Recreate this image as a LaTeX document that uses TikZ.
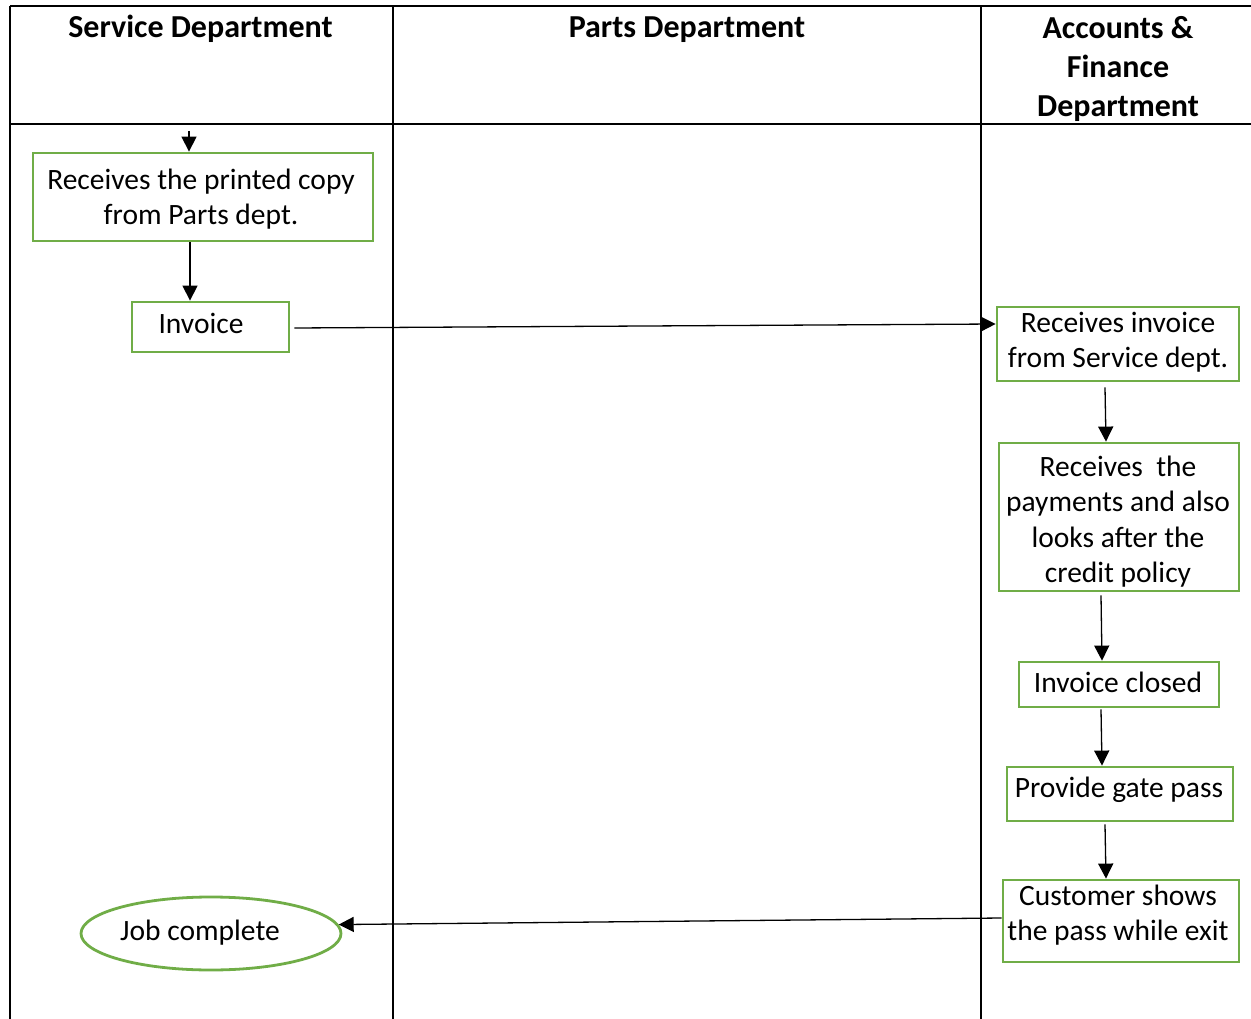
\documentclass[tikz,border=0pt]{standalone}
\usepackage{fontspec}
\setmainfont{Carlito}
\usetikzlibrary{arrows.meta,shapes.geometric}
\definecolor{boxgreen}{HTML}{70AD47}
\tikzset{
  tline/.style={line width=2pt,black},
  box/.style={draw=boxgreen,line width=2.8pt,inner sep=0pt,rectangle},
  oval/.style={draw=boxgreen,line width=2.8pt,inner sep=0pt,ellipse},
  txt/.style={inner sep=0pt,align=center,font=\fontsize{29.5}{35.5}\selectfont},
  head/.style={inner sep=0pt,align=center,font=\fontsize{32}{39}\selectfont\bfseries},
  arr/.style={line width=1.3pt,-{Triangle[length=15pt,width=15pt]}}
}
\begin{document}
\begin{tikzpicture}[x=1pt,y=-1pt]
\useasboundingbox (0,0) rectangle (1251,1019);
% table
\draw[tline] (10,6) -- (1251,6);
\draw[tline] (10,124) -- (1251,124);
\draw[tline] (10,6) -- (10,1019);
\draw[tline] (393,6) -- (393,1019);
\draw[tline] (981,6) -- (981,1019);
% headers
\node[head,anchor=base] (hs) at (200.5,38) {Service Department};
\node[head,anchor=base] (hp) at (687,38) {Parts Department};
\node[head] (ha) at (1118,68.5) {Accounts \&\\Finance\\Department};
% boxes
\node[box,minimum width=340pt,minimum height=88pt] (b1) at (203,197) {};
\node[txt] (b1t) at (201,199) {Receives the printed copy\\from Parts dept.};
\node[box,minimum width=157pt,minimum height=50pt] (inv) at (210.5,327) {};
\node[txt] (invt) at (201,323.5) {Invoice};
\node[box,minimum width=242pt,minimum height=74pt] (r1) at (1118,344) {};
\node[txt] (r1t) at (1118,342) {Receives invoice\\from Service dept.};
\node[box,minimum width=240pt,minimum height=148pt] (r2) at (1119,517) {};
\node[txt] (r2t) at (1118,521.5) {Receives~ the\\payments and also\\looks after the\\credit policy};
\node[box,minimum width=200pt,minimum height=45pt] (r3) at (1119,684.5) {};
\node[txt] (r3t) at (1118,682.5) {Invoice closed};
\node[box,minimum width=226pt,minimum height=54pt] (r4) at (1120,794) {};
\node[txt] (r4t) at (1119,790) {Provide gate pass};
\node[box,minimum width=236pt,minimum height=82pt] (r5) at (1121,921) {};
\node[txt] (r5t) at (1118,915) {Customer shows\\the pass while exit};
\node[oval,minimum width=260pt,minimum height=73pt] (job) at (211,933.5) {};
\node[txt] (jobt) at (200,932.5) {Job complete};
% connectors
\coordinate (top) at (189,131);
\draw[arr] (top) -- (top |- b1.north);
\draw[arr] ([xshift=-13pt]b1.south) -- ([xshift=-20.5pt]inv.north);
\draw[arr] ([xshift=4pt,yshift=-1pt]inv.east) -- ([yshift=20pt]r1.west);
\draw[arr] ([xshift=-13pt,yshift=-5pt]r1.south) -- ([xshift=-13pt]r2.north);
\draw[arr] ([xshift=-18pt,yshift=-3pt]r2.south) -- ([xshift=-17pt]r3.north);
\draw[arr] ([xshift=-18pt,yshift=-1pt]r3.south) -- ([xshift=-18pt]r4.north);
\draw[arr] ([xshift=-15pt,yshift=-2pt]r4.south) -- ([xshift=-15pt]r5.north);
\draw[arr] ([yshift=3pt]r5.west) -- (job.4);
\end{tikzpicture}
\end{document}
